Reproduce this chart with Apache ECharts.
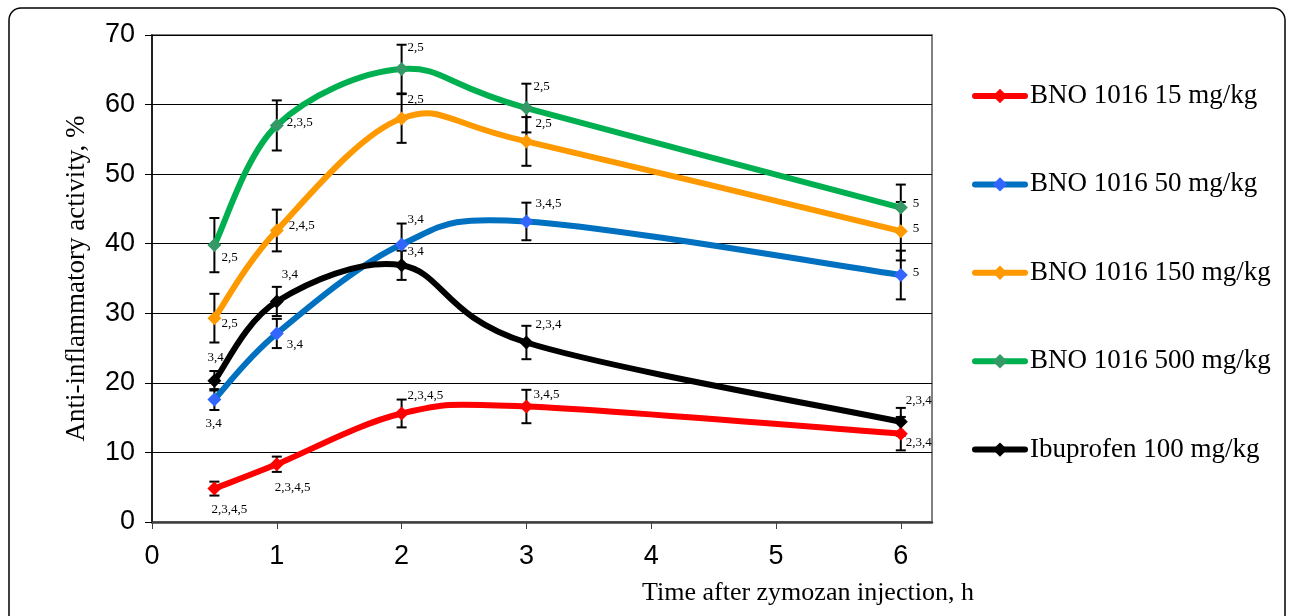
<!DOCTYPE html>
<html>
<head>
<meta charset="utf-8">
<script src="https://cdn.jsdelivr.net/npm/echarts@6/dist/echarts.min.js"></script>
<style>
html,body{margin:0;padding:0;background:#fff;}
#chart{width:1292px;height:616px;}
</style>
</head>
<body>
<div id="chart"></div>
<script>
// ---- data ----
var times = [0.5, 1, 2, 3, 6];
var seriesNames = ['BNO 1016 15 mg/kg', 'BNO 1016 50 mg/kg', 'BNO 1016 150 mg/kg', 'BNO 1016 500 mg/kg', 'Ibuprofen 100 mg/kg'];
var bno15  = [4.8, 8.3, 15.6, 16.6, 12.7];
var bno50  = [17.6, 27.1, 39.9, 43.2, 35.5];
var bno150 = [29.3, 41.9, 58.0, 54.7, 41.8];
var bno500 = [39.8, 57.0, 65.1, 59.5, 45.2];
var ibu100 = [20.3, 31.7, 36.9, 25.8, 14.4];
var err15  = [1.0, 1.1, 2.0, 2.4, 2.4];
var err50  = [1.5, 2.1, 3.0, 2.7, 3.5];
var err150 = [3.5, 3.0, 3.5, 3.5, 4.2];
var err500 = [3.9, 3.6, 3.5, 3.5, 3.3];
var errIbu = [1.4, 2.1, 2.1, 2.4, 2.0];
var sig15  = ['2,3,4,5', '2,3,4,5', '2,3,4,5', '3,4,5', '2,3,4'];
var sig50  = ['3,4', '3,4', '3,4', '3,4,5', '5'];
var sig150 = ['2,5', '2,4,5', '2,5', '2,5', '5'];
var sig500 = ['2,5', '2,3,5', '2,5', '2,5', '5'];
var sigIbu = ['3,4', '3,4', '3,4', '2,3,4', '2,3,4'];
var xTicks = [0, 1, 2, 3, 4, 5, 6];

// ---- styles ----
var lineColors   = ['#FF0000', '#0070C0', '#FF9900', '#00B050', '#000000'];
var markerColors = ['#FF0000', '#3366FF', '#FF9900', '#339966', '#000000'];
var labelOffsets = [
  [[-3, 21], [-2, 23], [6, -18], [7, -12], [5, 9]],
  [[-9, 24], [10, 11], [6, -25], [9, -18], [12, -2]],
  [[7, 5], [12, -5], [6, -19], [9, -18], [12, -3]],
  [[7, 12], [10, -3], [6, -22], [7, -21], [12, -4]],
  [[-7, -23], [5, -27], [6, -14], [9, -18], [5, -21]]
];

var values = [bno15, bno50, bno150, bno500, ibu100];
var errors = [err15, err50, err150, err500, errIbu];
var sigs   = [sig15, sig50, sig150, sig500, sigIbu];

var series = [];
var errData = [];

// error bars (drawn through the axes' scales)
values.forEach(function (vals, s) {
  vals.forEach(function (v, i) { errData.push([times[i], v, errors[s][i]]); });
});
series.push({
  type: 'custom',
  name: 'err',
  z: 1,
  silent: true,
  data: errData,
  renderItem: function (params, api) {
    var x = api.value(0), y = api.value(1), e = api.value(2);
    var top = api.coord([x, y + e]);
    var bot = api.coord([x, y - e]);
    var hw = 5;
    var st = { stroke: '#000', lineWidth: 2 };
    return {
      type: 'group',
      children: [
        { type: 'line', shape: { x1: top[0], y1: top[1], x2: bot[0], y2: bot[1] }, style: st },
        { type: 'line', shape: { x1: top[0] - hw, y1: top[1], x2: top[0] + hw, y2: top[1] }, style: st },
        { type: 'line', shape: { x1: bot[0] - hw, y1: bot[1], x2: bot[0] + hw, y2: bot[1] }, style: st }
      ]
    };
  }
});

// smoothed curves (Excel-like cardinal spline through the points)
values.forEach(function (vals, s) {
  series.push({
    type: 'custom',
    name: seriesNames[s] + ' curve',
    z: 2,
    silent: true,
    data: vals.map(function (v, i) { return [times[i], v]; }),
    renderItem: function (params, api) {
      var i = params.dataIndex, n = vals.length;
      if (i >= n - 1) return null;
      function P(k) {
        k = Math.max(0, Math.min(n - 1, k));
        return api.coord([times[k], vals[k]]);
      }
      var p0 = P(i - 1), p1 = P(i), p2 = P(i + 1), p3 = P(i + 2);
      return {
        type: 'bezierCurve',
        shape: {
          x1: p1[0], y1: p1[1], x2: p2[0], y2: p2[1],
          cpx1: p1[0] + (p2[0] - p0[0]) / 6, cpy1: p1[1] + (p2[1] - p0[1]) / 6,
          cpx2: p2[0] - (p3[0] - p1[0]) / 6, cpy2: p2[1] - (p3[1] - p1[1]) / 6
        },
        style: { stroke: lineColors[s], lineWidth: 6, fill: null, lineCap: 'round' }
      };
    }
  });
});

// markers + significance labels (+ legend entries)
values.forEach(function (vals, s) {
  series.push({
    name: seriesNames[s],
    type: 'line',
    z: 3,
    symbol: 'diamond',
    symbolSize: 14,
    lineStyle: { color: lineColors[s], width: 6, opacity: 0 },
    itemStyle: { color: markerColors[s] },
    emphasis: { disabled: true },
    data: vals.map(function (v, i) {
      return {
        value: [times[i], v],
        label: {
          show: true,
          position: 'inside',
          align: 'left',
          verticalAlign: 'middle',
          offset: labelOffsets[s][i],
          formatter: sigs[s][i],
          fontFamily: 'Liberation Serif',
          fontSize: 13,
          color: '#000'
        }
      };
    })
  });
});

var chart = echarts.init(document.getElementById('chart'), null, { renderer: 'canvas' });
chart.setOption({
  animation: false,
  backgroundColor: '#fff',
  title: {
    text: 'Time after zymozan injection, h',
    left: 642,
    top: 580,
    padding: 0,
    textStyle: { fontFamily: 'Liberation Serif', fontSize: 26, fontWeight: 'normal', color: '#000' }
  },
  graphic: [{
    type: 'rect',
    silent: true,
    shape: { x: 9, y: 8, width: 1276, height: 660, r: 12 },
    style: { fill: 'none', stroke: '#000', lineWidth: 1.5 },
    z: 0
  }],
  legend: {
    orient: 'vertical',
    left: 972,
    top: 81,
    padding: 0,
    itemWidth: 50,
    itemHeight: 18,
    itemGap: 58.4,
    data: seriesNames,
    lineStyle: { width: 6, opacity: 1, cap: 'round' },
    textStyle: { fontFamily: 'Liberation Serif', fontSize: 27, color: '#000', lineHeight: 30 }
  },
  grid: {
    left: 152, top: 35, right: 360, bottom: 94,
    show: true, borderColor: '#808080', borderWidth: 2,
    containLabel: false
  },
  xAxis: {
    type: 'value',
    min: 0,
    max: 6.25,
    axisLine: { show: true, onZero: false, lineStyle: { color: '#404040', width: 2.5 } },
    axisTick: { show: true, customValues: xTicks, length: 7, lineStyle: { color: '#404040', width: 1 } },
    axisLabel: { customValues: xTicks, margin: 21, fontFamily: 'Liberation Sans', fontSize: 27, color: '#000' },
    splitLine: { show: false }
  },
  yAxis: {
    type: 'value',
    min: 0,
    max: 70,
    interval: 10,
    name: 'Anti-inflammatory activity, %',
    nameLocation: 'middle',
    nameGap: 62,
    nameTextStyle: { fontFamily: 'Liberation Serif', fontSize: 27, color: '#000' },
    axisLine: { show: true, lineStyle: { color: '#000', width: 1.5 } },
    axisTick: { show: true, length: 7, lineStyle: { color: '#000', width: 1 } },
    axisLabel: { margin: 17, fontFamily: 'Liberation Sans', fontSize: 27, color: '#000' },
    splitLine: { show: true, lineStyle: { color: '#000', width: 1 } }
  },
  series: series
});
</script>
</body>
</html>
